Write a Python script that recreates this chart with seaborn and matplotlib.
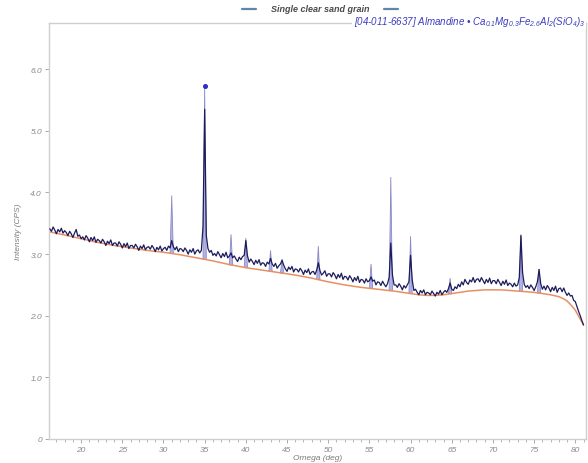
import numpy as np
import pandas as pd
import matplotlib
matplotlib.use("Agg")
import matplotlib.pyplot as plt
from matplotlib.lines import Line2D
from matplotlib.ticker import MultipleLocator
import seaborn as sns

# ---------------- data ----------------
# scan grid (deg), 0.2 deg step
angle = np.round(np.arange(16.2, 81.0001, 0.2), 1)

intensity = [
    3.41, 3.37, 3.44, 3.39, 3.33, 3.40, 3.36, 3.42, 3.34, 3.38,
    3.35, 3.30, 3.37, 3.33, 3.27, 3.34, 3.40, 3.29, 3.31, 3.25,
    3.28, 3.23, 3.30, 3.26, 3.20, 3.27, 3.22, 3.28, 3.19, 3.24,
    3.22, 3.18, 3.24, 3.20, 3.14, 3.21, 3.17, 3.23, 3.14, 3.18,
    3.18, 3.13, 3.20, 3.16, 3.10, 3.17, 3.12, 3.18, 3.09, 3.14,
    3.14, 3.10, 3.16, 3.12, 3.06, 3.13, 3.09, 3.15, 3.07, 3.11,
    3.12, 3.08, 3.14, 3.10, 3.04, 3.11, 3.07, 3.13, 3.05, 3.09,
    3.11, 3.06, 3.13, 3.10, 3.22, 3.12, 3.07, 3.12, 3.04, 3.09,
    3.08, 3.04, 3.10, 3.06, 3.00, 3.07, 3.03, 3.09, 3.00, 3.05,
    3.07, 3.02, 3.06, 3.45, 5.35, 3.30, 3.09, 3.03, 3.06, 2.98,
    3.01, 2.97, 3.04, 2.99, 2.94, 3.01, 2.96, 3.03, 2.94, 2.97,
    3.02, 2.94, 2.97, 2.92, 2.88, 2.95, 2.91, 2.96, 2.98, 3.22,
    2.97, 2.87, 2.92, 2.88, 2.83, 2.90, 2.85, 2.91, 2.82, 2.86,
    2.85, 2.80, 2.87, 2.84, 2.93, 2.84, 2.80, 2.85, 2.77, 2.81,
    2.84, 2.90, 2.82, 2.76, 2.72, 2.79, 2.75, 2.80, 2.71, 2.76,
    2.75, 2.71, 2.77, 2.73, 2.67, 2.74, 2.70, 2.76, 2.67, 2.71,
    2.72, 2.67, 2.74, 2.86, 2.73, 2.66, 2.69, 2.73, 2.64, 2.68,
    2.68, 2.63, 2.70, 2.66, 2.60, 2.67, 2.62, 2.69, 2.59, 2.64,
    2.63, 2.58, 2.65, 2.61, 2.55, 2.62, 2.57, 2.64, 2.54, 2.59,
    2.58, 2.53, 2.60, 2.55, 2.57, 2.63, 2.56, 2.58, 2.50, 2.55,
    2.54, 2.49, 2.56, 2.51, 2.47, 2.52, 2.62, 3.18, 2.66, 2.50,
    2.50, 2.46, 2.52, 2.48, 2.42, 2.49, 2.45, 2.50, 2.55, 2.98,
    2.58, 2.41, 2.43, 2.38, 2.34, 2.41, 2.37, 2.42, 2.34, 2.38,
    2.37, 2.34, 2.40, 2.36, 2.32, 2.38, 2.35, 2.41, 2.34, 2.38,
    2.41, 2.38, 2.44, 2.53, 2.43, 2.41, 2.47, 2.44, 2.51, 2.47,
    2.55, 2.50, 2.59, 2.54, 2.51, 2.58, 2.55, 2.62, 2.54, 2.59,
    2.60, 2.55, 2.62, 2.57, 2.52, 2.59, 2.54, 2.61, 2.52, 2.57,
    2.57, 2.52, 2.59, 2.54, 2.49, 2.56, 2.51, 2.58, 2.49, 2.53,
    2.51, 2.47, 2.53, 2.48, 2.50, 2.62, 3.30, 2.70, 2.51, 2.46,
    2.49, 2.44, 2.50, 2.46, 2.41, 2.47, 2.55, 2.75, 2.52, 2.43,
    2.48, 2.42, 2.49, 2.45, 2.39, 2.46, 2.41, 2.48, 2.38, 2.44,
    2.45, 2.39, 2.45, 2.38, 2.33, 2.37, 2.32, 2.33, 2.25, 2.23,
    2.15, 2.07, 2.00, 1.92, 1.85,
]

bg_angle = [16.2, 18, 20, 22, 24, 26, 28, 30, 32, 34, 36, 38, 40, 42, 44, 46,
            48, 50, 52, 54, 56, 58, 60, 61, 62, 63, 64, 65, 66, 67, 68, 69, 70,
            71, 72, 73, 74, 75, 76, 77, 78, 78.5, 79, 79.5, 80, 80.5, 81]
bg_value = [3.36, 3.31, 3.25, 3.19, 3.14, 3.10, 3.06, 3.03, 2.99, 2.94, 2.89,
            2.83, 2.78, 2.74, 2.70, 2.66, 2.61, 2.55, 2.50, 2.46, 2.43, 2.40,
            2.36, 2.34, 2.33, 2.33, 2.34, 2.36, 2.38, 2.40, 2.41, 2.42, 2.42,
            2.42, 2.41, 2.40, 2.39, 2.38, 2.36, 2.34, 2.31, 2.28, 2.24, 2.17,
            2.09, 1.97, 1.85]

phase_pos = [31.0, 35.0, 38.2, 40.0, 43.0, 44.4, 48.8, 55.2, 57.6, 60.0, 64.8, 73.4, 75.6]
phase_top = [3.95, 5.72, 3.32, 3.26, 3.06, 2.92, 3.13, 2.84, 4.25, 3.29, 2.61, 3.32, 2.76]

x_ticks = [20, 25, 30, 35, 40, 45, 50, 55, 60, 65, 70, 75, 80]
y_ticks = [0, 1, 2, 3, 4, 5, 6]
y_tick_labels = ["0", "1.0", "2.0", "3.0", "4.0", "5.0", "6.0"]

series_name = "Single clear sand grain"
phase_label = ("[04-011-6637] Almandine \u2022 Ca$_{0.1}$Mg$_{0.3}$"
               "Fe$_{2.6}$Al$_{2}$(SiO$_{4}$)$_{3}$")

# ---------------- style ----------------
sns.set_style("white")
plt.rcParams["font.family"] = ["Liberation Sans", "DejaVu Sans"]
plt.rcParams["mathtext.fontset"] = "custom"
plt.rcParams["mathtext.rm"] = "Liberation Sans:italic"
plt.rcParams["mathtext.it"] = "Liberation Sans:italic"
plt.rcParams["mathtext.bf"] = "Liberation Sans:italic"

df = pd.DataFrame({"angle": angle, "intensity": intensity})
bg = pd.DataFrame({"angle": bg_angle, "value": bg_value})

fig = plt.figure(figsize=(5.88, 4.64), dpi=100)
ax = fig.add_axes([49 / 588, 1 - 440 / 464, (586 - 49) / 588, (440 - 24) / 464])

# phase (reference) profiles
half = 0.2
for p, t in zip(phase_pos, phase_top):
    base = np.interp(p, bg_angle, bg_value)
    ax.fill([p - half, p, p + half], [base, t, base], facecolor="#b3b3ea",
            edgecolor="#8a8ac4", linewidth=0.6, zorder=1)
# marker on strongest reference line
i_max = int(np.argmax(phase_top))
ax.plot([phase_pos[i_max]], [phase_top[i_max]], "o", color="#2e2ec8",
        markersize=2.6, zorder=5)

sns.lineplot(data=bg, x="angle", y="value", ax=ax, color="#ea8f62",
             linewidth=1.1, zorder=2, estimator=None, sort=False)
sns.lineplot(data=df, x="angle", y="intensity", ax=ax, color="#1c1c5c",
             linewidth=0.9, zorder=3, estimator=None, sort=False)

ax.set_xlim(16.1, 81.3)
ax.set_ylim(0, 6.75)
ax.set_xticks(x_ticks)
ax.set_xticklabels([str(v) for v in x_ticks])
ax.xaxis.set_minor_locator(MultipleLocator(1))
ax.set_yticks(y_ticks)
ax.set_yticklabels(y_tick_labels)

tick_col = "#8a8a8a"
ax.tick_params(axis="both", which="major", direction="out", length=3,
               width=0.7, color="#aaaaaa", labelsize=6, labelcolor=tick_col, pad=2)
ax.tick_params(axis="x", which="minor", direction="out", length=2,
               width=0.6, color="#aaaaaa")
ax.tick_params(bottom=True, left=True)
ax.xaxis.set_tick_params(which="minor", bottom=True)
for lab in ax.get_xticklabels() + ax.get_yticklabels():
    lab.set_fontstyle("italic")

for side, sp in ax.spines.items():
    sp.set_color("#cfcfcf")
    sp.set_linewidth(1.0)
    sp.set_visible(True)

ax.set_xlabel("Omega (deg)", fontsize=6, fontstyle="italic", color="#7a7a7a",
              labelpad=1)
ax.set_ylabel("Intensity (CPS)", fontsize=6, fontstyle="italic", color="#7a7a7a",
              labelpad=6)

# legend (series) at the top
y_leg = 1 - 10 / 464
for x0, x1 in [(242, 256), (384, 398)]:
    fig.add_artist(Line2D([x0 / 588, x1 / 588], [y_leg, y_leg],
                          transform=fig.transFigure, color="#5e88aa",
                          linewidth=1.6))
fig.text(320 / 588, y_leg, series_name, ha="center", va="center",
         fontsize=6.5, fontweight="bold", fontstyle="italic", color="#4a4a4a")

# phase label
fig.text(585 / 588, 1 - 22 / 464, phase_label, ha="right", va="center",
         fontsize=7, fontstyle="italic", color="#3b3bbf", zorder=10,
         bbox=dict(facecolor="white", edgecolor="none", pad=1.0))

fig.savefig("out.png", dpi=100)
